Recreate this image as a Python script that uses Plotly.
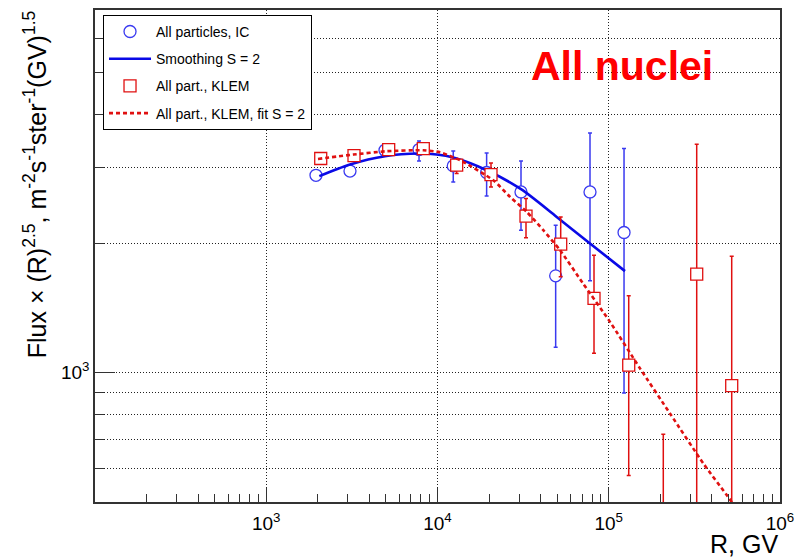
import plotly.graph_objects as go

# ---------------- data ----------------
# All particles, IC
ic_r = [1952, 3083, 4936, 7800, 12360, 19360, 30730, 48980, 77720, 122800]
ic_flux = [2884, 2951, 3299, 3311, 3033, 2928, 2638, 1682, 2638, 2122]
ic_hi = [2942, 3010, 3365, 3468, 3287, 3252, 3116, 2207, 3620, 3329]
ic_lo = [2826, 2892, 3233, 3116, 2784, 2582, 2149, 1146, 1638, 897]

# Smoothing S = 2
smooth_r = [2041, 3083, 4936, 7800, 9893, 12360, 19360, 30730, 49660, 77720, 124400]
smooth_flux = [2871, 3056, 3195, 3241, 3224, 3172, 2964, 2677, 2307, 2001, 1725]

# All part., KLEM
klem_r = [2080, 3254, 5188, 8262, 12940, 20530, 32870, 52410, 82020, 130800,
          208200, 326300, 522400]
klem_flux = [3156, 3206, 3311, 3329, 3045, 2896, 2316, 1994, 1490, 1042,
             420, 1697, 933]
klem_hi = [3220, 3270, 3377, 3396, 3139, 3082, 2547, 2307, 1879, 1511,
           719, 3407, 1869]
klem_lo = [3093, 3142, 3245, 3262, 2912, 2710, 2062, 1673, 1110, 576,
           300, 300, 300]

# All part., KLEM, fit S = 2
fit_r = [2005, 3224, 5051, 8262, 10340, 13530, 21180, 26510, 33180, 41480,
         51930, 70740, 101700, 152200, 227800, 356600, 488400, 583900]
fit_flux = [3149, 3224, 3282, 3299, 3263, 3127, 2809, 2569, 2371, 2149,
            1930, 1615, 1314, 1024, 804, 615, 519, 471]

x_major = [1e3, 1e4, 1e5, 1e6]
x_major_text = ["10<sup>3</sup>", "10<sup>4</sup>", "10<sup>5</sup>", "10<sup>6</sup>"]
x_minor = [m * d for d in (1e2, 1e3, 1e4, 1e5) for m in range(2, 10)]
y_major = [1000]
y_major_text = ["10<sup>3</sup>"]
y_minor = [600, 700, 800, 900, 2000, 3000, 4000, 5000, 6000]

BLUE = "#0a0ae6"
BLUE_M = "#3a3af0"
RED = "#e01010"

FONT = "Liberation Sans, Arial, Helvetica, sans-serif"

fig = go.Figure()

fig.add_trace(go.Scatter(
    x=ic_r, y=ic_flux, mode="markers", name="All particles, IC",
    legendgroup="g1",
    marker=dict(symbol="circle", size=12, color="white",
                line=dict(color=BLUE_M, width=1.3)),
    error_y=dict(type="data", symmetric=False,
                 array=[h - v for h, v in zip(ic_hi, ic_flux)],
                 arrayminus=[v - l for v, l in zip(ic_flux, ic_lo)],
                 color=BLUE_M, thickness=1.5, width=2),
))
fig.add_trace(go.Scatter(
    x=smooth_r, y=smooth_flux, mode="lines", name="Smoothing S = 2",
    legendgroup="g2",
    line=dict(color=BLUE, width=2.6, shape="spline", smoothing=0.8),
))
fig.add_trace(go.Scatter(
    x=klem_r, y=klem_flux, mode="markers", name="All part., KLEM",
    legendgroup="g3",
    marker=dict(symbol="square", size=12, color="white",
                line=dict(color=RED, width=1.3)),
    error_y=dict(type="data", symmetric=False,
                 array=[h - v for h, v in zip(klem_hi, klem_flux)],
                 arrayminus=[v - l for v, l in zip(klem_flux, klem_lo)],
                 color=RED, thickness=1.5, width=2),
))
fig.add_trace(go.Scatter(
    x=fit_r, y=fit_flux, mode="lines", name="All part., KLEM, fit S = 2",
    legendgroup="g4",
    line=dict(color=RED, width=2.6, dash="4px,3px", shape="spline", smoothing=0.6),
))

axis_common = dict(
    type="log", showline=True, linecolor="#333333", linewidth=1.5, mirror=True,
    ticks="inside", tickcolor="#333333", tickwidth=1.3,
    showgrid=True, gridcolor="#222222", gridwidth=1, griddash="1px,2px",
    zeroline=False, tickfont=dict(size=19, family=FONT, color="black"),
)

fig.update_xaxes(
    **axis_common, range=[2, 6], tickmode="array", tickvals=x_major,
    ticktext=x_major_text, ticklen=14, ticklabelstandoff=3,
    minor=dict(tickmode="array", tickvals=x_minor, ticks="inside", ticklen=8,
               tickcolor="#333333", tickwidth=1.3, showgrid=False),
)
fig.update_yaxes(
    **axis_common, range=[2.69897, 3.8451], tickmode="array", tickvals=y_major,
    ticktext=y_major_text, ticklen=20,
    minor=dict(tickmode="array", tickvals=y_minor, ticks="inside", ticklen=9,
               tickcolor="#333333", tickwidth=1.3, showgrid=True,
               gridcolor="#222222", gridwidth=1, griddash="1px,2px"),
)

fig.update_layout(
    width=808, height=558, margin=dict(l=95, r=28, t=8, b=56),
    paper_bgcolor="white", plot_bgcolor="white",
    font=dict(family=FONT, color="black"),
    showlegend=True,
    legend=dict(x=0.0117, y=0.99, xanchor="left", yanchor="top",
                bgcolor="white", bordercolor="black", borderwidth=1,
                font=dict(size=14, family=FONT, color="black"),
                tracegroupgap=6, itemwidth=42, traceorder="grouped"),
    annotations=[
        dict(text="<b>All nuclei</b>", xref="paper", yref="paper",
             x=0.769, y=0.886, xanchor="center", yanchor="middle",
             showarrow=False, font=dict(size=41, color="#ff0000", family=FONT)),
        dict(text="R, GV", xref="paper", yref="paper", x=1.0, y=-0.085,
             xanchor="right", yanchor="middle", showarrow=False,
             font=dict(size=25, family=FONT, color="black")),
        dict(text="Flux × (R)<sup>2.5</sup>, m<sup>-2</sup>s<sup>-1</sup>ster<sup>-1</sup>(GV)<sup>1.5</sup>",
             xref="paper", yref="paper", x=-0.088, y=1.002, textangle=-90,
             xanchor="center", yanchor="top", showarrow=False,
             font=dict(size=25, family=FONT, color="black")),
    ],
)

fig.write_html("out.html")
